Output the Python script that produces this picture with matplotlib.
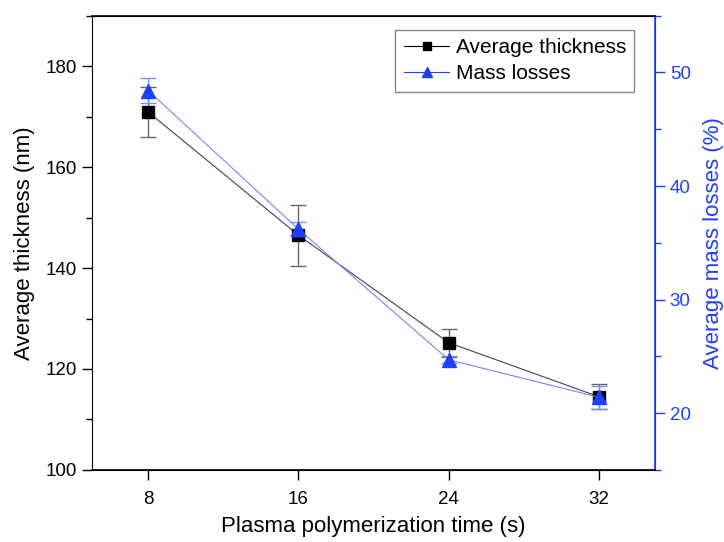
import numpy as np
import matplotlib.pyplot as plt
from matplotlib.ticker import MultipleLocator
from matplotlib.lines import Line2D

plt.rcParams['font.family'] = ['Liberation Sans', 'DejaVu Sans']

# plasma polymerization time (s)
time = [8, 16, 24, 32]
# average thickness (nm) and its error
thickness = [170.9, 146.5, 125.2, 114.5]
thicknessErr = [5.0, 6.0, 2.8, 2.5]
# average mass losses (%) and its error
massLoss = [48.4, 36.2, 24.7, 21.4]
massErr = [1.1, 0.6, 0.3, 1.0]
seriesNames = ['Average thickness', 'Mass losses']

blue = '#1f3fff'

fig = plt.figure(figsize=(7.24, 5.42), dpi=100)
ax = fig.add_axes([0.127, 0.133, 0.778, 0.838])
ax2 = ax.twinx()

ax.errorbar(time, thickness, yerr=thicknessErr, color='#444444', lw=0.8,
            ecolor='#666666', elinewidth=1.0, capsize=6, capthick=1.0,
            marker='s', ms=8, mfc='black', mec='black', zorder=3)
ax2.errorbar(time, massLoss, yerr=massErr, color='#6f86ff', lw=0.8,
             ecolor='#7a90ff', elinewidth=1.0, capsize=6, capthick=1.0,
             marker='^', ms=10, mfc=blue, mec=blue, zorder=3)

ax.set_xlim(5, 35)
ax.set_ylim(100, 190)
ax2.set_ylim(15, 55)
ax.set_xticks(time)
ax.yaxis.set_major_locator(MultipleLocator(20))
ax.yaxis.set_minor_locator(MultipleLocator(10))
ax2.yaxis.set_major_locator(MultipleLocator(10))
ax2.yaxis.set_minor_locator(MultipleLocator(5))

ax.tick_params(axis='both', which='major', direction='out', length=7, width=1, labelsize=13.5)
ax.tick_params(axis='x', which='major', pad=8)
ax.tick_params(axis='y', which='minor', direction='out', length=4, width=1)
ax2.tick_params(axis='y', which='major', direction='out', length=7, width=1,
                labelsize=13.5, colors=blue)
ax2.tick_params(axis='y', which='minor', direction='out', length=4, width=1, colors=blue)

ax.set_xlabel('Plasma polymerization time (s)', fontsize=16, labelpad=6)
ax.set_ylabel('Average thickness (nm)', fontsize=16, labelpad=8)
ax2.set_ylabel('Average mass losses (%)', fontsize=16, color=blue, labelpad=9)

for s in ax2.spines.values():
    s.set_linewidth(1.2)
ax2.spines['right'].set_color(blue)
ax2.spines['left'].set_visible(False)

handles = [Line2D([], [], color='black', lw=0.8, marker='s', ms=6, mfc='black', mec='black'),
           Line2D([], [], color=blue, lw=0.8, marker='^', ms=7, mfc=blue, mec=blue)]
leg = ax2.legend(handles, seriesNames, loc='upper right',
                 bbox_to_anchor=(0.963, 0.969), fontsize=15, frameon=True, fancybox=False,
                 handlelength=2.2, handletextpad=0.3, borderpad=0.4, labelspacing=0.35,
                 borderaxespad=0)
leg.get_frame().set_edgecolor('#666666')
leg.get_frame().set_linewidth(1.0)

fig.savefig('out.png', dpi=100)
